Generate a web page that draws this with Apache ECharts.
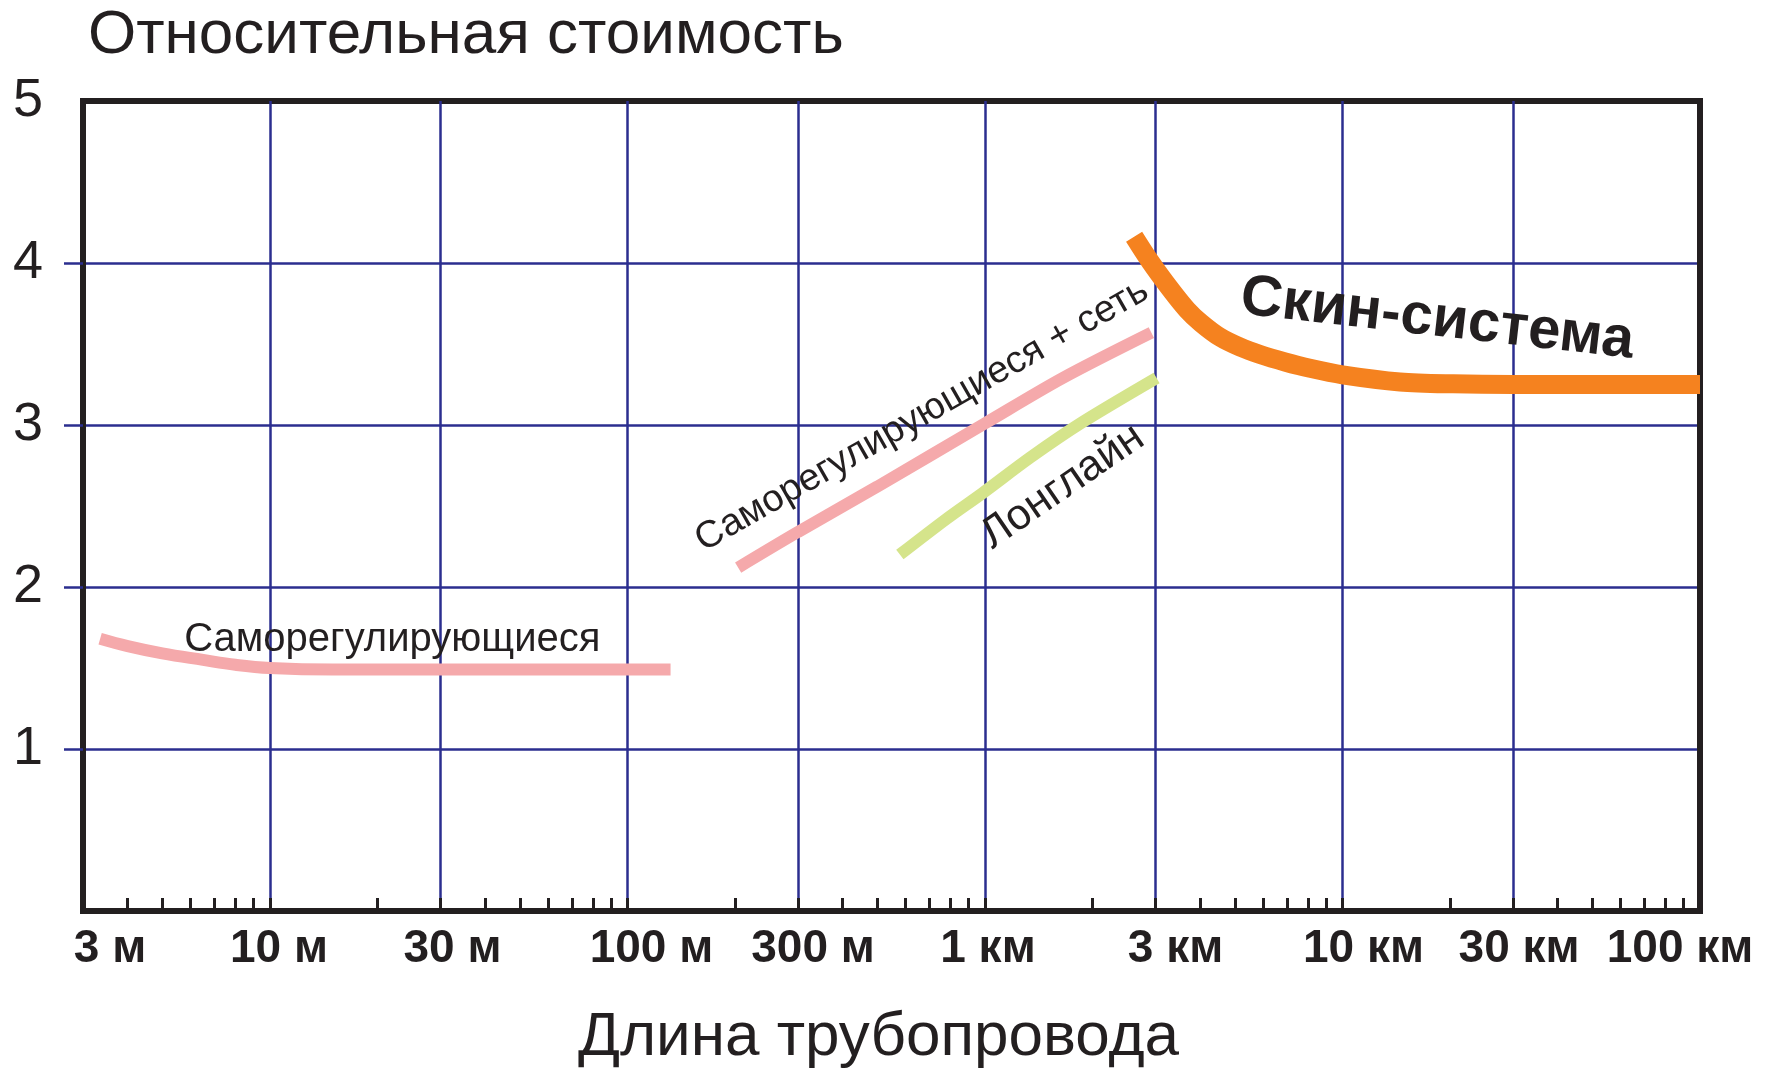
<!DOCTYPE html>
<html>
<head>
<meta charset="utf-8">
<script src="https://cdn.jsdelivr.net/npm/echarts/dist/echarts.min.js"></script>
<style>
html,body{margin:0;padding:0;background:#fff;}
#chart{width:1769px;height:1074px;}
</style>
</head>
<body>
<div id="chart"></div>
<script>
// ---- data ----
const tickMeters = [3, 10, 30, 100, 300, 1000, 3000, 10000, 30000, 100000];
const tickLabels = ['3 м', '10 м', '30 м', '100 м', '300 м', '1 км', '3 км', '10 км', '30 км', '100 км'];
const gridMeters = [10, 30, 100, 300, 1000, 3000, 10000, 30000];
const minorTickMeters = [4, 5, 6, 7, 8, 9, 10, 20, 30, 40, 50, 60, 70, 80, 90, 100,
  200, 300, 400, 500, 600, 700, 800, 900, 1000, 2000, 3000, 4000, 5000, 6000, 7000, 8000, 9000,
  10000, 20000, 30000, 40000, 50000, 60000, 70000, 80000, 90000];
const yTickValues = [1, 2, 3, 4];
const yLabelValues = [1, 2, 3, 4, 5];

const xTitle = 'Длина трубопровода';
const yTitle = 'Относительная стоимость';

const seriesNames = ['Саморегулирующиеся', 'Саморегулирующиеся + сеть', 'Лонглайн', 'Скин-система'];
const selfReg = [[3.35, 1.68], [4, 1.635], [5, 1.59], [6.5, 1.55], [8, 1.52], [10, 1.50], [15, 1.49], [30, 1.49], [132, 1.49]];
const selfRegNet = [[204, 2.12], [300, 2.34], [500, 2.62], [1000, 3.01], [1650, 3.29], [2920, 3.57]];
const longline = [[578, 2.20], [780, 2.42], [985, 2.58], [1340, 2.80], [1850, 3.01], [3020, 3.29]];
const skin = [[2613, 4.162], [2896, 4.01], [3315, 3.833], [3676, 3.711], [4023, 3.629], [4545, 3.542],
  [5170, 3.481], [5881, 3.435], [6907, 3.389], [8115, 3.35], [10000, 3.31], [14490, 3.266],
  [20390, 3.254], [30000, 3.25], [100000, 3.25]];

// ---- layout / style config (not data) ----
const labelShiftPx = [27, 9, 12, 24, 15, 3, 20, 21, 6, -20];
const FONT = 'Liberation Sans, Arial, sans-serif';
const INK = '#231f20';
const NAVY = '#2b2e8f';

// ---- helpers ----
const L = v => Math.log10(v);
const toXY = arr => arr.map(p => [L(p[0]), p[1]]);

function labelIndex(v) {
  let best = 0, d = Infinity;
  tickMeters.forEach((m, i) => { const dd = Math.abs(L(m) - v); if (dd < d) { d = dd; best = i; } });
  return best;
}
const richStyles = {};
labelShiftPx.forEach((s, i) => {
  richStyles['s' + i] = {
    fontFamily: FONT, fontWeight: 'bold', fontSize: 46, color: INK,
    padding: s >= 0 ? [0, 0, 0, 2 * s] : [0, -2 * s, 0, 0]
  };
});

const chart = echarts.init(document.getElementById('chart'), null, { renderer: 'canvas' });
const option = {
  animation: false,
  backgroundColor: '#fff',
  title: {
    text: yTitle, left: 88, top: 5, padding: 0,
    textStyle: { fontFamily: FONT, fontWeight: 'normal', fontSize: 62, color: INK }
  },
  grid: {
    left: 83, right: 69, top: 101, bottom: 155,
    show: true, borderColor: INK, borderWidth: 6, backgroundColor: 'transparent'
  },
  xAxis: [
    {
      type: 'value', position: 'bottom', min: L(3), max: 5, z: 1,
      name: xTitle, nameLocation: 'middle', nameGap: 96,
      nameTextStyle: { fontFamily: FONT, fontSize: 62, color: INK, padding: [0, 26, 0, 0] },
      axisLine: { show: true, lineStyle: { color: INK, width: 6 } },
      axisTick: { show: true, inside: true, length: 13, customValues: minorTickMeters.map(L), lineStyle: { color: INK, width: 3 } },
      axisLabel: {
        show: true, margin: 15, customValues: tickMeters.map(L), showMinLabel: true, showMaxLabel: true,
        formatter: v => { const i = labelIndex(v); return '{s' + i + '|' + tickLabels[i] + '}'; },
        rich: richStyles
      },
      splitLine: { show: false }
    },
    {
      type: 'value', position: 'top', min: L(3), max: 5, z: 0,
      axisLine: { show: true, lineStyle: { color: INK, width: 6 } },
      axisTick: { show: false, customValues: gridMeters.map(L) },
      axisLabel: { show: false },
      splitLine: { show: true, lineStyle: { color: NAVY, width: 2.5 } }
    }
  ],
  yAxis: [
    {
      type: 'value', position: 'left', min: 0, max: 5, interval: 1, z: 0,
      axisLine: { show: true, lineStyle: { color: INK, width: 6 } },
      axisTick: { show: true, inside: false, length: 19, customValues: yTickValues, lineStyle: { color: NAVY, width: 2.5 } },
      axisLabel: {
        show: true, margin: 40, customValues: yLabelValues, showMinLabel: true, showMaxLabel: true,
        fontFamily: FONT, fontSize: 54, color: INK
      },
      splitLine: { show: true, lineStyle: { color: NAVY, width: 2.5 } }
    },
    {
      type: 'value', position: 'right', min: 0, max: 5, interval: 1, z: 1,
      axisLine: { show: true, lineStyle: { color: INK, width: 6 } },
      axisTick: { show: false }, axisLabel: { show: false }, splitLine: { show: false }
    }
  ],
  series: [
    { name: seriesNames[0], type: 'line', data: toXY(selfReg), smooth: 0.4, showSymbol: false, z: 3,
      lineStyle: { color: '#f5a9ab', width: 12, cap: 'butt' } },
    { name: seriesNames[1], type: 'line', data: toXY(selfRegNet), smooth: 0.3, showSymbol: false, z: 3,
      lineStyle: { color: '#f5a9ab', width: 12, cap: 'butt' } },
    { name: seriesNames[2], type: 'line', data: toXY(longline), smooth: 0.3, showSymbol: false, z: 3,
      lineStyle: { color: '#d5e48b', width: 12, cap: 'butt' } },
    { name: seriesNames[3], type: 'line', data: toXY(skin), smooth: 0.3, showSymbol: false, z: 3,
      lineStyle: { color: '#f5821f', width: 19, cap: 'butt' } }
  ]
};
chart.setOption(option);

// ---- text annotations anchored in data coordinates ----
const annotations = [
  { text: seriesNames[0], at: [22, 1.675], angle: 0, font: 'normal 40px ' + FONT },
  { text: seriesNames[1], at: [666, 3.06], angle: 29.7, font: 'normal 38px ' + FONT },
  { text: seriesNames[2], at: [1650, 2.62], angle: 34.5, font: 'normal 43px ' + FONT },
  { text: seriesNames[3], at: [18400, 3.65], angle: -6.5, font: 'bold 58px ' + FONT }
];
const graphics = annotations.map(a => {
  const p = chart.convertToPixel({ xAxisIndex: 0, yAxisIndex: 0 }, [L(a.at[0]), a.at[1]]);
  return {
    type: 'text', x: p[0], y: p[1], rotation: a.angle * Math.PI / 180, z: 10,
    style: { text: a.text, font: a.font, fill: INK, align: 'center', verticalAlign: 'middle',
      textAlign: 'center', textVerticalAlign: 'middle' }
  };
});
chart.setOption({ graphic: graphics });
</script>
</body>
</html>
